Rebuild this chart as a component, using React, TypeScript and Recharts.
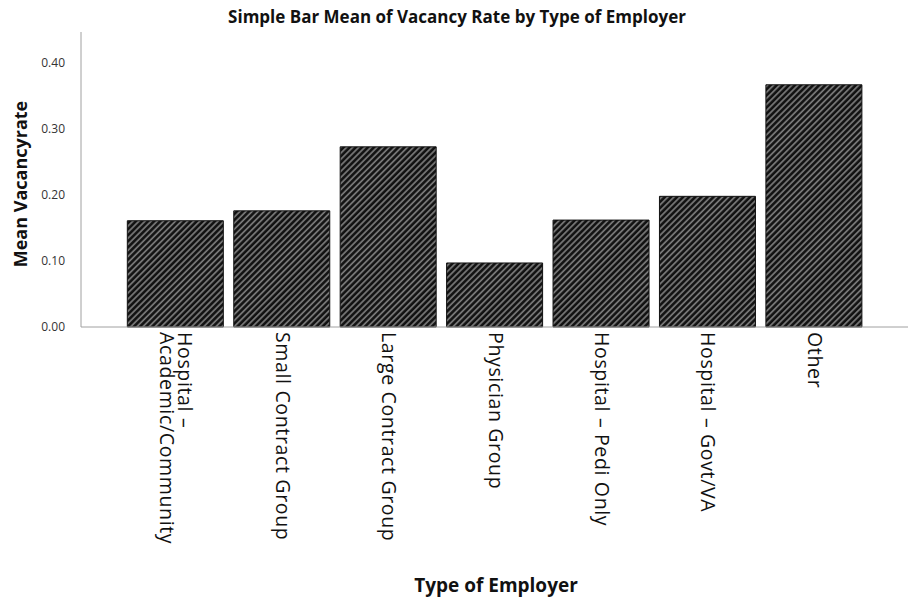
import React from 'react';
import { BarChart, Bar, XAxis, YAxis } from 'recharts';

const categories = [
  'Hospital – Academic/Community',
  'Small Contract Group',
  'Large Contract Group',
  'Physician Group',
  'Hospital – Pedi Only',
  'Hospital – Govt/VA',
  'Other',
];
const tickLines: string[][] = [
  ['Hospital –', 'Academic/Community'],
  ['Small Contract Group'],
  ['Large Contract Group'],
  ['Physician Group'],
  ['Hospital – Pedi Only'],
  ['Hospital – Govt/VA'],
  ['Other'],
];
const meanVacancy = [0.161, 0.176, 0.273, 0.097, 0.162, 0.198, 0.367];
const yTicks = [0, 0.1, 0.2, 0.3, 0.4];

const data = categories.map((c, i) => ({ name: c, idx: i, value: meanVacancy[i] }));

const FONT = '"Open Sans", "DejaVu Sans", sans-serif';
const TICKFONT = '"Open Sans", "DejaVu Sans", sans-serif';

const XTick = (props: any) => {
  const { x, y, payload } = props;
  const lines = tickLines[payload.index] || [payload.value];
  const lh = 18;
  const n = lines.length;
  return (
    <g transform={`translate(${x},${y - 3}) rotate(90)`}>
      {lines.map((l, i) => (
        <text
          key={i}
          x={0}
          y={(i - (n - 1) / 2) * lh}
          dy={6}
          textAnchor="start"
          fontFamily={TICKFONT}
          fontSize={19.5}
          letterSpacing={0.65}
          fill="#111"
        >
          {l}
        </text>
      ))}
    </g>
  );
};

export default function App() {
  return (
    <div style={{ position: 'absolute', left: 0, top: 0, width: 912, height: 602, background: '#fff' }}>
      <div
        style={{
          position: 'absolute',
          left: 0,
          top: 5,
          width: 914,
          textAlign: 'center',
          fontFamily: FONT,
          fontWeight: 700,
          fontSize: 17,
          color: '#111',
        }}
      >
        Simple Bar Mean of Vacancy Rate by Type of Employer
      </div>
      <div
        style={{
          position: 'absolute',
          left: 20,
          top: 184,
          transform: 'translate(-50%, -50%) rotate(-90deg)',
          whiteSpace: 'nowrap',
          fontFamily: FONT,
          fontWeight: 700,
          fontSize: 18,
          color: '#111',
        }}
      >
        Mean Vacancyrate
      </div>
      <div
        style={{
          position: 'absolute',
          left: 496,
          top: 585,
          transform: 'translate(-50%, -50%)',
          whiteSpace: 'nowrap',
          fontFamily: FONT,
          fontWeight: 700,
          fontSize: 19,
          color: '#111',
        }}
      >
        Type of Employer
      </div>
      <BarChart
        width={912}
        height={602}
        data={data}
        margin={{ top: 32, right: 4, left: 0, bottom: 0 }}
        barCategoryGap="5%"
      >
        <defs>
          <pattern
            id="hatch"
            patternUnits="userSpaceOnUse"
            width={4.3}
            height={4.3}
            patternTransform="rotate(45)"
          >
            <rect x={0} y={0} width={4.3} height={4.3} fill="#111" />
            <line x1={1} y1={0} x2={1} y2={4.3} stroke="#7c7c7c" strokeWidth={1.7} />
          </pattern>
        </defs>
        <XAxis
          dataKey="name"
          interval={0}
          height={275}
          tick={<XTick />}
          tickLine={false}
          axisLine={{ stroke: '#a0a0a0' }}
          padding={{ left: 41, right: 41 }}
        />
        <YAxis
          width={81}
          domain={[0, 0.447]}
          ticks={yTicks}
          tickFormatter={(v: number) => v.toFixed(2)}
          tickLine={false}
          axisLine={{ stroke: '#a0a0a0' }}
          tick={{ fontFamily: FONT, fontSize: 12, fill: '#333' }}
          tickMargin={10}
        />
        <Bar dataKey="value" fill="url(#hatch)" stroke="#111" strokeWidth={1} isAnimationActive={false} />
      </BarChart>
    </div>
  );
}
